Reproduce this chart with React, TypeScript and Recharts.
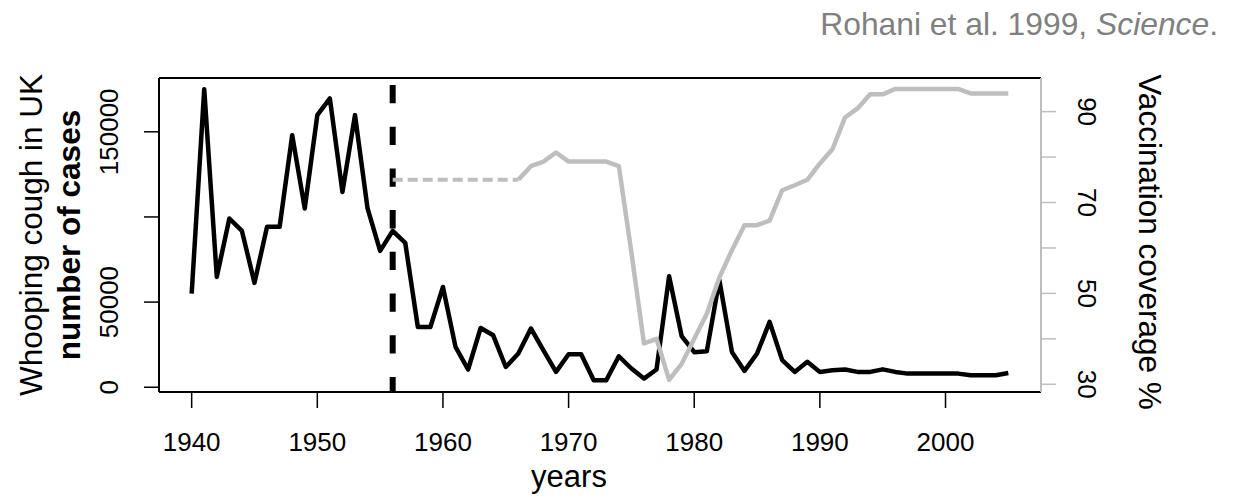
import { ComposedChart, Line, XAxis, YAxis, ReferenceLine } from 'recharts';

const FONT = "'Liberation Sans', Arial, Helvetica, sans-serif";

const years = [
  1940, 1941, 1942, 1943, 1944, 1945, 1946, 1947, 1948, 1949,
  1950, 1951, 1952, 1953, 1954, 1955, 1956, 1957, 1958, 1959,
  1960, 1961, 1962, 1963, 1964, 1965, 1966, 1967, 1968, 1969,
  1970, 1971, 1972, 1973, 1974, 1975, 1976, 1977, 1978, 1979,
  1980, 1981, 1982, 1983, 1984, 1985, 1986, 1987, 1988, 1989,
  1990, 1991, 1992, 1993, 1994, 1995, 1996, 1997, 1998, 1999,
  2000, 2001, 2002, 2003, 2004, 2005,
];

// notified whooping cough cases, UK
const cases = [
  55000, 175000, 64800, 99100, 91800, 61300, 94200, 94200, 148000, 105000,
  159800, 169600, 114700, 159800, 105000, 80100, 91800, 84800, 35400, 35400,
  58900, 23700, 10400, 34800, 30500, 11900, 19800, 34500, 21700, 9000,
  19400, 19400, 4100, 4100, 18200, 11000, 5100, 10400, 65200, 30000,
  20600, 21100, 62900, 20700, 9600, 19800, 38400, 15900, 9000, 14900,
  9000, 10000, 10400, 9000, 9000, 10500, 9000, 8000, 8000, 8000,
  8000, 8000, 7000, 7000, 7000, 8400,
];

// vaccination coverage %, 1966-2005
const coverageStart = 1966;
const coverage = [
  75, 78, 79, 81, 79, 79, 79, 79, 78, 59,
  39, 40, 31, 34.5, 40, 45.5, 53.5, 59.5, 65, 65,
  66, 72.7, 73.8, 75, 78.6, 81.7, 88.7, 90.7, 93.8, 93.8,
  95, 95, 95, 95, 95, 95, 94, 94, 94, 94,
];

// assumed coverage before records, 1956-1966 (dashed)
const assumedStart = 1956;
const coverageAssumed = [75, 75, 75, 75, 75, 75, 75, 75, 75, 75, 75];

const xTicks = [1940, 1950, 1960, 1970, 1980, 1990, 2000];
const leftTicks = [0, 50000, 100000, 150000];
const leftLabels = [0, 50000, 150000];
const rightTicks = [30, 40, 50, 60, 70, 80, 90];
const rightLabels = [30, 50, 70, 90];

const vaccineIntro = 1956;

const data = years.map((year, i) => ({
  year,
  cases: cases[i],
  coverage: year >= coverageStart ? coverage[year - coverageStart] : null,
  assumed:
    year >= assumedStart && year < assumedStart + coverageAssumed.length
      ? coverageAssumed[year - assumedStart]
      : null,
}));

const GREY = '#bebebe';
const LEFT_DOMAIN = [-2800, 181600];

function XTick(props: any) {
  const { x, payload } = props;
  return (
    <text x={x} y={451} textAnchor="middle" fontSize={26} fontFamily={FONT} fill="#000">
      {payload.value}
    </text>
  );
}

function LeftTick(props: any) {
  const { y, payload } = props;
  if (!leftLabels.includes(payload.value)) return <g />;
  return (
    <text x={118} y={y} transform={`rotate(-90, 118, ${y})`} textAnchor="middle" fontSize={26} fontFamily={FONT} fill="#000">
      {payload.value}
    </text>
  );
}

function RightTick(props: any) {
  const { y, payload } = props;
  if (!rightLabels.includes(payload.value)) return <g />;
  return (
    <text x={1078} y={y} transform={`rotate(90, 1078, ${y})`} textAnchor="middle" fontSize={26} fontFamily={FONT} fill="#000">
      {payload.value}
    </text>
  );
}

export default function App() {
  return (
    <div style={{ position: 'absolute', left: 0, top: 0, width: 1237, height: 499, background: '#fff' }}>
      <ComposedChart width={1237} height={499} data={data} margin={{ top: 78, right: 136, bottom: 67, left: 99 }}>
        <XAxis
          dataKey="year"
          type="number"
          domain={[1937.4, 2007.6]}
          ticks={xTicks}
          allowDataOverflow
          height={40}
          tickSize={16}
          tickLine={{ stroke: '#000', strokeWidth: 1.5 }}
          axisLine={{ stroke: '#000', strokeWidth: 2 }}
          tick={XTick}
        />
        <YAxis
          yAxisId="left"
          type="number"
          domain={LEFT_DOMAIN}
          ticks={leftTicks}
          allowDataOverflow
          width={60}
          tickSize={15}
          tickLine={{ stroke: '#000', strokeWidth: 1.5 }}
          axisLine={{ stroke: '#000', strokeWidth: 2 }}
          tick={LeftTick}
        />
        <YAxis
          yAxisId="right"
          orientation="right"
          type="number"
          domain={[28.3, 97.4]}
          ticks={rightTicks}
          allowDataOverflow
          width={60}
          tickSize={15}
          tickLine={{ stroke: GREY, strokeWidth: 1.5 }}
          axisLine={{ stroke: GREY, strokeWidth: 2 }}
          tick={RightTick}
        />
        <ReferenceLine yAxisId="left" y={LEFT_DOMAIN[1]} stroke="#000" strokeWidth={2} />
        <Line
          yAxisId="left"
          dataKey="cases"
          stroke="#000"
          strokeWidth={4.5}
          dot={false}
          strokeLinejoin="round"
          isAnimationActive={false}
        />
        <ReferenceLine
          yAxisId="left"
          segment={[{ x: vaccineIntro, y: 177500 }, { x: vaccineIntro, y: LEFT_DOMAIN[0] }]}
          stroke="#000"
          strokeWidth={6}
          strokeDasharray="18.3 23.4"
        />
        <Line
          yAxisId="right"
          dataKey="assumed"
          stroke={GREY}
          strokeWidth={4}
          strokeDasharray="10 5"
          dot={false}
          isAnimationActive={false}
        />
        <Line
          yAxisId="right"
          dataKey="coverage"
          stroke={GREY}
          strokeWidth={4.5}
          dot={false}
          strokeLinejoin="round"
          isAnimationActive={false}
        />
      </ComposedChart>
      <svg
        width={1237}
        height={499}
        style={{ position: 'absolute', left: 0, top: 0, pointerEvents: 'none' }}
        fontFamily={FONT}
      >
        <text x={1218} y={35} textAnchor="end" fontSize={31.8} fill="#808080">
          Rohani et al. 1999, <tspan fontStyle="italic">Science</tspan>.
        </text>
        <text x={42} y={235} transform="rotate(-90, 42, 235)" textAnchor="middle" fontSize={31.5} fill="#000">
          Whooping cough in UK
        </text>
        <text x={80} y={235} transform="rotate(-90, 80, 235)" textAnchor="middle" fontSize={31.5} fontWeight="bold" fill="#000">
          number of cases
        </text>
        <text x={1139} y={242} transform="rotate(90, 1139, 242)" textAnchor="middle" fontSize={31.5} fill="#000">
          Vaccination coverage %
        </text>
        <text x={569} y={487} textAnchor="middle" fontSize={31} fill="#000">
          years
        </text>
      </svg>
    </div>
  );
}
